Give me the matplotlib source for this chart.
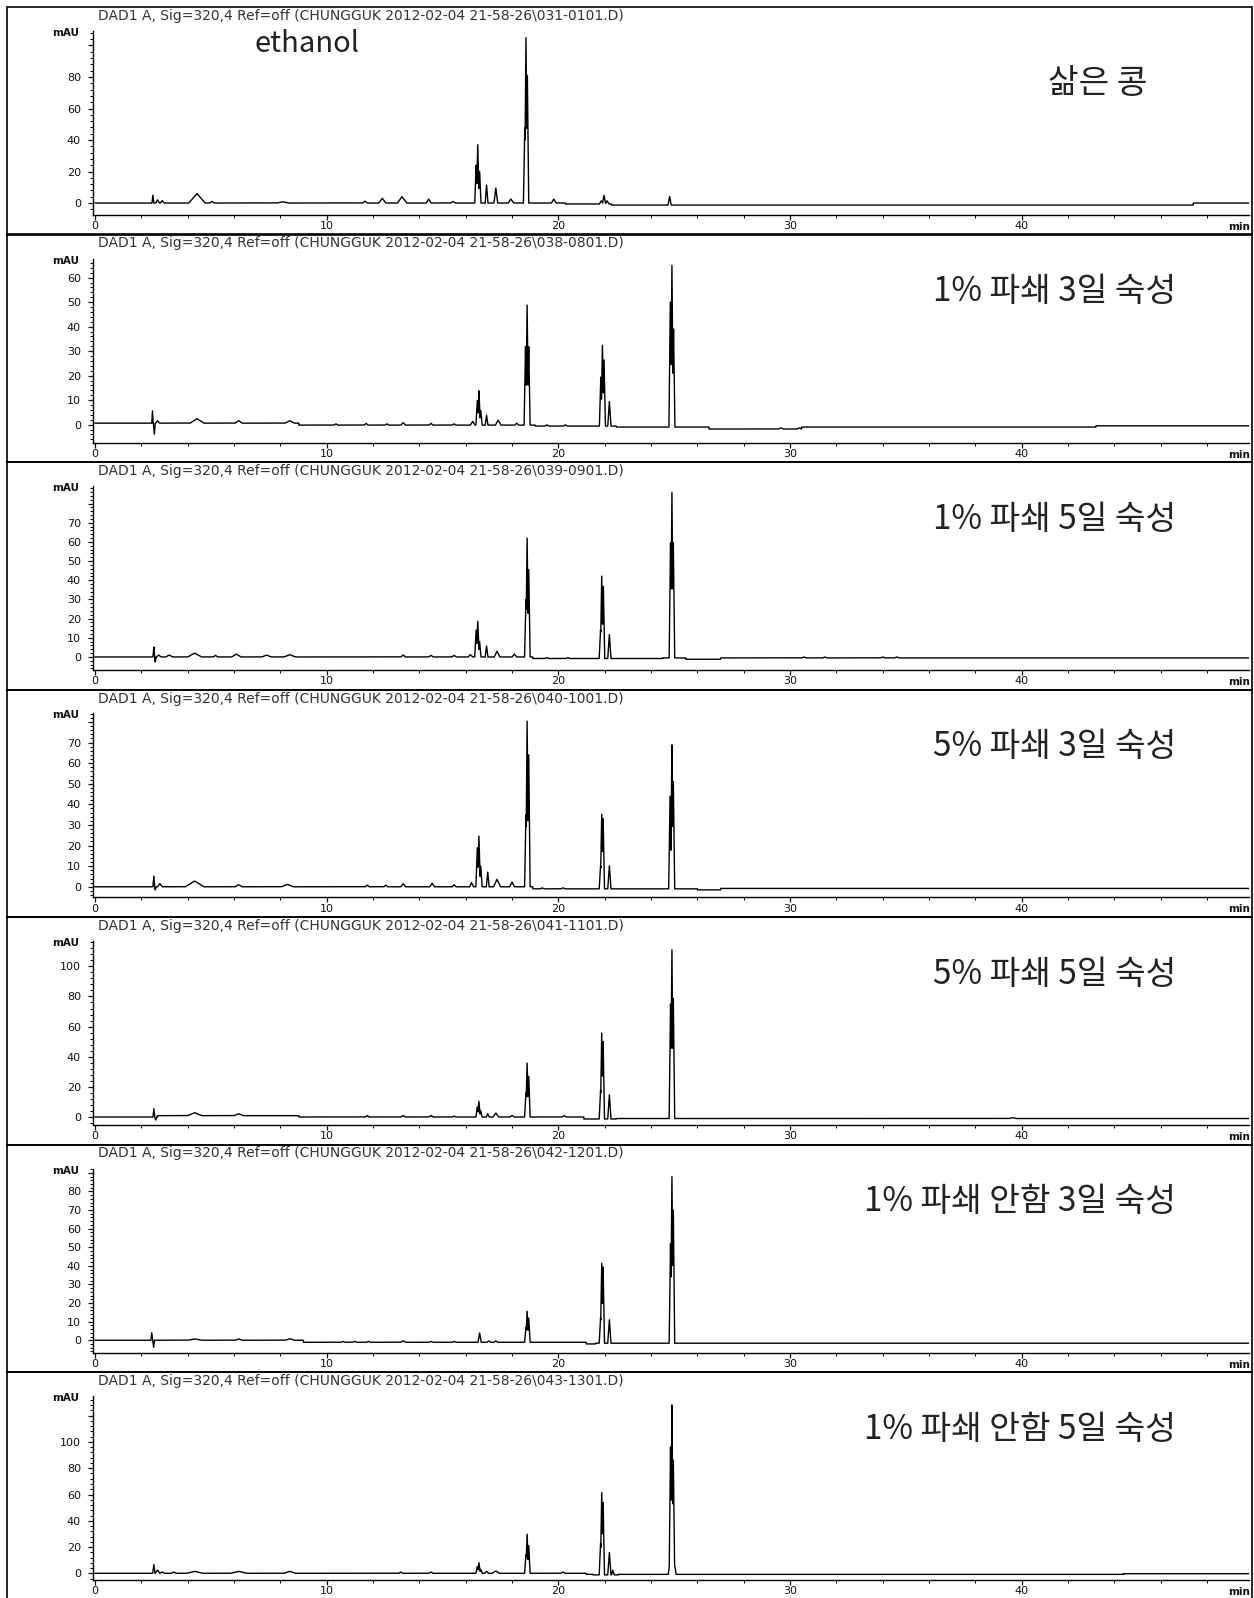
import numpy as np
import matplotlib.pyplot as plt
from matplotlib.patches import Rectangle
from matplotlib.ticker import MultipleLocator, FixedLocator, FixedFormatter

plt.rcParams['font.family'] = ['DejaVu Sans']

# ============================================================================
# DATA: HPLC traces (DAD1 A, 320 nm), peak tables
# ============================================================================
sample_names = ['삶은 콩', '1% 파쇄 3일 숙성', '1% 파쇄 5일 숙성', '5% 파쇄 3일 숙성',
                '5% 파쇄 5일 숙성', '1% 파쇄 안함 3일 숙성', '1% 파쇄 안함 5일 숙성']
file_ids = ['031-0101', '038-0801', '039-0901', '040-1001', '041-1101', '042-1201', '043-1301']

y_limits = [(-7.6, 109.2), (-7.3, 67.8), (-6.8, 89.2), (-5.2, 84.1),
            (-5.3, 116.8), (-6.6, 92.3), (-5.1, 135.0)]
y_steps = [20, 10, 10, 10, 20, 10, 20]
y_label_max = [80, 60, 70, 70, 100, 80, 100]

# retention time (min), height above baseline (mAU), half width (min)
rt_1 = [2.5, 2.7, 2.9, 4.4, 5.05, 8.1, 11.65, 12.4, 13.25, 14.4, 15.45,
        16.45, 16.52, 16.6, 16.9, 17.3, 17.95, 18.55, 18.6, 18.66, 19.8,
        21.85, 21.97, 22.1, 24.8]
h_1 = [5, 2, 1.5, 6, 1, 0.8, 1.2, 3, 4, 2.5, 1,
       24, 37, 20, 11.4, 9.5, 2.5, 48, 105, 81, 2.5,
       2, 5.5, 2, 5.5]
w_1 = [0.04, 0.08, 0.08, 0.35, 0.1, 0.25, 0.1, 0.15, 0.2, 0.1, 0.1,
       0.06, 0.06, 0.06, 0.06, 0.08, 0.12, 0.06, 0.06, 0.06, 0.1,
       0.08, 0.07, 0.08, 0.07]
base_t_1 = [0, 20.3, 22.3, 47.4]
base_v_1 = [0, -0.6, -1.3, 0]

rt_2 = [2.48, 2.56, 2.7, 4.4, 6.2, 8.4, 10.4, 11.7, 12.6, 13.3, 14.5, 15.5, 16.3,
        16.5, 16.57, 16.65, 16.9, 17.4, 18.2, 18.58, 18.65, 18.72, 19.5, 20.3,
        21.83, 21.9, 21.97, 22.2, 24.83, 24.9, 24.97, 29.6, 30.4]
h_2 = [5, -4.5, 1, 1.8, 1, 1, 0.5, 0.7, 0.5, 1, 0.7, 0.5, 1.5,
       10, 14, 6, 4, 2, 0.8, 32, 49, 32, 0.5, 0.5,
       20, 33, 27, 10, 51, 66, 40, 0.5, 0.5]
w_2 = [0.03, 0.04, 0.08, 0.3, 0.15, 0.2, 0.08, 0.08, 0.08, 0.1, 0.08, 0.08, 0.1,
       0.06, 0.06, 0.06, 0.06, 0.12, 0.08, 0.06, 0.06, 0.06, 0.08, 0.08,
       0.06, 0.06, 0.06, 0.07, 0.06, 0.06, 0.06, 0.1, 0.1]
base_t_2 = [0, 8.8, 19.0, 22.5, 26.5, 30.5, 43.2]
base_v_2 = [0.6, -0.2, -0.6, -1.0, -1.8, -1.0, -0.5]

rt_3 = [2.54, 2.6, 2.75, 3.2, 4.3, 5.2, 6.1, 7.4, 8.4, 13.3, 14.5, 15.5, 16.2,
        16.45, 16.52, 16.6, 16.9, 17.35, 18.1, 18.6, 18.65, 18.72, 19.5, 20.4,
        21.82, 21.87, 21.94, 22.2, 24.84, 24.9, 24.96, 30.6, 31.5, 34.0, 34.6]
h_3 = [5.2, -2.6, 1, 1, 2, 0.8, 1.5, 1, 1.2, 1, 0.8, 0.8, 1.2,
       14, 18.6, 8, 5.7, 3, 1.5, 30, 62, 45.6, 0.5, 0.5,
       15, 43, 37.7, 12.5, 60, 86.4, 60, 0.5, 0.5, 0.5, 0.5]
w_3 = [0.04, 0.04, 0.1, 0.15, 0.3, 0.1, 0.2, 0.2, 0.25, 0.1, 0.1, 0.1, 0.1,
       0.06, 0.06, 0.06, 0.06, 0.12, 0.1, 0.06, 0.06, 0.06, 0.08, 0.08,
       0.06, 0.06, 0.06, 0.07, 0.06, 0.06, 0.06, 0.1, 0.1, 0.1, 0.1]
base_t_3 = [0, 18.9, 24.5, 25.5, 27.0]
base_v_3 = [0, -0.8, -0.5, -1.2, -0.5]

rt_4 = [2.54, 2.6, 2.8, 4.3, 6.2, 8.3, 11.75, 12.55, 13.3, 14.55, 15.5, 16.25,
        16.5, 16.57, 16.65, 16.95, 17.35, 18.0, 18.6, 18.65, 18.72, 19.3, 20.2,
        21.82, 21.87, 21.93, 22.2, 24.82, 24.9, 24.96]
h_4 = [5.2, -1.5, 1.5, 2.8, 1, 1.2, 0.8, 0.8, 1.5, 1.7, 1, 2,
       19, 24.6, 10, 7.1, 3.6, 2.3, 35, 80.4, 64, 0.5, 0.5,
       11, 36.2, 34, 11.2, 45, 69.9, 52]
w_4 = [0.04, 0.04, 0.1, 0.4, 0.15, 0.25, 0.08, 0.08, 0.1, 0.1, 0.08, 0.08,
       0.06, 0.06, 0.06, 0.06, 0.15, 0.1, 0.06, 0.06, 0.06, 0.08, 0.08,
       0.06, 0.06, 0.06, 0.07, 0.06, 0.06, 0.06]
base_t_4 = [0, 18.9, 26.0, 27.0]
base_v_4 = [0, -1.0, -1.5, -0.8]

rt_5 = [2.54, 2.62, 4.3, 6.2, 11.75, 13.3, 14.5, 15.5,
        16.5, 16.57, 16.65, 16.95, 17.3, 18.0, 18.6, 18.65, 18.72, 20.25,
        21.82, 21.87, 21.93, 22.2, 24.84, 24.9, 24.96, 39.6]
h_5 = [5.5, -2, 2, 1.3, 1, 1, 1, 0.6,
       6.6, 10.4, 4, 2.2, 2.6, 1, 16, 35.8, 27, 1,
       19, 57, 51.3, 16, 76, 112, 79.6, 0.6]
w_5 = [0.04, 0.04, 0.3, 0.2, 0.08, 0.1, 0.1, 0.08,
       0.06, 0.06, 0.06, 0.06, 0.12, 0.1, 0.06, 0.06, 0.06, 0.08,
       0.06, 0.06, 0.06, 0.07, 0.06, 0.06, 0.06, 0.15]
base_t_5 = [0, 2.7, 8.8, 21.1, 22.5]
base_v_5 = [0, 0.9, 0, -1.3, -1.0]

rt_6 = [2.45, 2.53, 4.3, 6.2, 8.4, 10.7, 11.2, 11.8, 13.3, 14.5, 15.5,
        16.6, 17.0, 17.3, 18.6, 18.65, 18.72,
        21.82, 21.87, 21.93, 22.2, 24.84, 24.9, 24.96]
h_6 = [4, -3.8, 0.7, 0.7, 0.8, 0.5, 0.5, 0.5, 0.8, 0.5, 0.5,
       5, 0.7, 0.7, 8, 16.7, 13,
       13.5, 43, 41, 12.6, 53.5, 89.5, 71.5]
w_6 = [0.04, 0.04, 0.3, 0.15, 0.2, 0.08, 0.08, 0.08, 0.1, 0.08, 0.08,
       0.07, 0.08, 0.08, 0.06, 0.06, 0.06,
       0.06, 0.06, 0.06, 0.07, 0.06, 0.06, 0.06]
base_t_6 = [0, 9.0, 21.2, 21.6]
base_v_6 = [0, -1.1, -2.0, -1.6]

rt_7 = [2.54, 2.7, 2.9, 3.4, 4.3, 6.2, 8.4, 13.2, 14.5,
        16.5, 16.57, 16.65, 16.9, 17.3, 18.6, 18.65, 18.72, 20.2,
        21.82, 21.87, 21.93, 22.2, 22.35, 24.8, 24.84, 24.9, 24.96, 25.02]
h_7 = [6.6, 2.5, 1, 1, 1.5, 1.5, 1.5, 1, 1,
       5, 8.1, 3, 1.5, 1.8, 14, 29.8, 21, 1,
       24, 62.6, 55, 17, 3.6, 8, 97, 129, 87, 7]
w_7 = [0.05, 0.1, 0.1, 0.1, 0.35, 0.35, 0.25, 0.08, 0.08,
       0.06, 0.06, 0.06, 0.08, 0.15, 0.06, 0.06, 0.06, 0.08,
       0.06, 0.06, 0.06, 0.07, 0.06, 0.06, 0.06, 0.06, 0.06, 0.06]
base_t_7 = [0, 21.2, 21.5, 22.6, 44.4]
base_v_7 = [0, -0.8, -1.2, -0.8, -0.3]

peak_tables = [(rt_1, h_1, w_1, base_t_1, base_v_1), (rt_2, h_2, w_2, base_t_2, base_v_2),
               (rt_3, h_3, w_3, base_t_3, base_v_3), (rt_4, h_4, w_4, base_t_4, base_v_4),
               (rt_5, h_5, w_5, base_t_5, base_v_5), (rt_6, h_6, w_6, base_t_6, base_v_6),
               (rt_7, h_7, w_7, base_t_7, base_v_7)]


def build_trace(t, rt, h, w, base_t, base_v):
    # baseline steps + sharp peaks (envelope of positive peaks, sum of dips)
    base = np.array(base_v, dtype=float)[np.searchsorted(base_t, t, side='right') - 1]
    pos = np.zeros_like(t)
    neg = np.zeros_like(t)
    for r, hh, ww in zip(rt, h, w):
        tri = hh * np.clip(1 - np.abs(t - r) / ww, 0, None)
        if hh >= 0:
            pos = np.maximum(pos, tri)
        else:
            neg += tri
    return base + pos + neg


# ============================================================================
# LAYOUT (pixel based, figure is 1254 x 1598)
# ============================================================================
W, H = 1254, 1598
fig = plt.figure(figsize=(W / 100, H / 100), dpi=100)


def fx(px):
    return px / W


def fy(py):
    return 1 - py / H


KFONT = ['Noto Sans CJK KR', 'DejaVu Sans']
panel_h = 227.5
x0_px, px_per_min = 95.0, 23.17
xmin, xmax = -0.1, 49.8
t = np.arange(0, 49.8, 0.005)

for i in range(7):
    top = 7 + panel_h * i

    # panel frame
    fig.patches.append(Rectangle((fx(7), fy(top + panel_h)), fx(1252) - fx(7), panel_h / H,
                                 transform=fig.transFigure, fill=False,
                                 edgecolor='black', linewidth=1.2, zorder=0))

    ax_left = x0_px + xmin * px_per_min
    ax_right = x0_px + xmax * px_per_min
    ax = fig.add_axes([fx(ax_left), fy(top + 208), fx(ax_right) - fx(ax_left), 184 / H])
    ax.patch.set_alpha(0)

    rt, h, w, bt, bv = peak_tables[i]
    ax.plot(t, build_trace(t, rt, h, w, bt, bv), color='black', linewidth=1.0)

    ax.set_xlim(xmin, xmax)
    ax.set_ylim(*y_limits[i])
    for s in ['top', 'right']:
        ax.spines[s].set_visible(False)
    for s in ['left', 'bottom']:
        ax.spines[s].set_linewidth(1.0)

    ax.xaxis.set_major_locator(FixedLocator([0, 10, 20, 30, 40]))
    ax.xaxis.set_minor_locator(MultipleLocator(2))
    step = y_steps[i]
    yt = list(np.arange(0, y_limits[i][1], step))
    ax.yaxis.set_major_locator(FixedLocator(yt))
    ax.yaxis.set_major_formatter(FixedFormatter(
        [f'{v:g}' if v <= y_label_max[i] else '' for v in yt]))
    ax.yaxis.set_minor_locator(MultipleLocator(step / 5))

    ax.tick_params(axis='both', which='major', direction='out', length=3.5, width=0.9,
                   labelsize=8, colors='#111111')
    ax.tick_params(axis='both', which='minor', direction='out', length=2, width=0.7)
    ax.tick_params(axis='x', which='major', pad=1.0)
    ax.tick_params(axis='y', which='major', pad=5)

    # header line
    fig.text(fx(98), fy(top + 9), f'DAD1 A, Sig=320,4 Ref=off (CHUNGGUK 2012-02-04 21-58-26\\{file_ids[i]}.D)',
             ha='left', va='center', fontsize=10, color='#333333')
    fig.text(fx(79), fy(top + 26), 'mAU', ha='right', va='center', fontsize=7.5,
             fontweight='bold', color='#111111')
    fig.text(fx(1250), fy(top + 220), 'min', ha='right', va='center', fontsize=7.5,
             fontweight='bold', color='#111111')

    # sample label
    if i == 0:
        fig.text(fx(1147), fy(top + 86), sample_names[i], ha='right', va='baseline',
                 fontsize=24, family=KFONT, color='#222222')
        fig.text(fx(255), fy(52), 'ethanol', ha='left', va='baseline',
                 fontsize=21, family=KFONT, color='#222222')
    else:
        fig.text(fx(1176), fy(top + 67), sample_names[i], ha='right', va='baseline',
                 fontsize=24, family=KFONT, color='#222222')

fig.savefig('out.png', dpi=100, facecolor='white')
